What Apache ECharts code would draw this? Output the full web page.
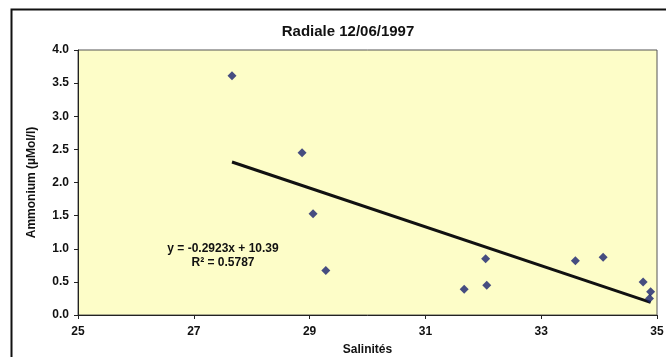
<!DOCTYPE html>
<html>
<head>
<meta charset="utf-8">
<script src="https://cdn.jsdelivr.net/npm/echarts@6/dist/echarts.min.js"></script>
<style>
  html, body { margin: 0; padding: 0; background: #fff; }
  #chart { width: 666px; height: 357px; }
</style>
</head>
<body>
<div id="chart"></div>
<script>
// measured points (salinity, ammonium)
const salinity = [27.66, 28.87, 29.06, 29.28, 31.67, 32.04, 32.06, 33.59, 34.07, 34.76, 34.89, 34.87];
const ammonium = [3.61, 2.45, 1.53, 0.67, 0.39, 0.85, 0.45, 0.82, 0.87, 0.50, 0.35, 0.25];
// linear trend ends
const trendX = [27.66, 34.89];
const trendY = [2.31, 0.19];
const eqLines = ['y = -0.2923x + 10.39', 'R\u00b2 = 0.5787'];

let chart = echarts.init(document.getElementById('chart'));
const font = '"Liberation Sans", Arial, sans-serif';

let option = {
  animation: false,
  backgroundColor: '#fff',
  title: {
    text: 'Radiale 12/06/1997',
    left: 343,
    top: 19,
    textAlign: 'center',
    textStyle: { fontFamily: font, fontSize: 15, fontWeight: 'bold', color: '#111' }
  },
  grid: { left: 78, right: 9, top: 50, bottom: 42, outerBoundsMode: 'none', containLabel: false,
    show: true, backgroundColor: '#fdfdc8', borderColor: '#555', borderWidth: 1 },
  xAxis: {
    type: 'value', min: 25, max: 35, interval: 2,
    name: 'Salinités', nameLocation: 'middle', nameGap: 29,
    nameTextStyle: { fontFamily: font, fontSize: 12, fontWeight: 'bold', color: '#111' },
    axisLine: { show: true, onZero: false, lineStyle: { color: '#222', width: 1 } },
    axisTick: { show: true, length: 4, lineStyle: { color: '#222' } },
    axisLabel: { fontFamily: font, fontSize: 12, fontWeight: 'bold', color: '#111', margin: 11 },
    splitLine: { show: false }
  },
  yAxis: {
    type: 'value', min: 0, max: 4, interval: 0.5,
    name: 'Ammonium (µMol/l)', nameLocation: 'middle', nameGap: 40, nameRotate: 90,
    nameTextStyle: { fontFamily: font, fontSize: 12, fontWeight: 'bold', color: '#111' },
    axisLine: { show: true, lineStyle: { color: '#222', width: 1 } },
    axisTick: { show: true, length: 4, lineStyle: { color: '#222' } },
    axisLabel: { fontFamily: font, fontSize: 12, fontWeight: 'bold', color: '#111', margin: 9,
      formatter: v => v.toFixed(1) },
    splitLine: { show: false }
  },
  series: [
    {
      type: 'line',
      data: trendX.map((x, i) => [x, trendY[i]]),
      symbol: 'none',
      lineStyle: { color: '#111', width: 3 },
      z: 2
    },
    {
      type: 'scatter',
      data: salinity.map((x, i) => [x, ammonium[i]]),
      symbol: 'diamond',
      symbolSize: 9,
      itemStyle: { color: '#18206e' },
      z: 3
    }
  ],
  graphic: [
    {
      type: 'rect', left: 9, top: 7, silent: true,
      shape: { width: 700, height: 400 },
      style: { fill: 'none', stroke: '#111', lineWidth: 2 }
    },
    {
      type: 'text', x: 223, y: 249,
      style: { text: eqLines[0], fontFamily: font, fontSize: 12, fontWeight: 'bold', fill: '#111', align: 'center', verticalAlign: 'middle' }
    },
    {
      type: 'text', x: 223, y: 263,
      style: { text: eqLines[1], fontFamily: font, fontSize: 12, fontWeight: 'bold', fill: '#111', align: 'center', verticalAlign: 'middle' }
    }
  ]
};
chart.setOption(option);
</script>
</body>
</html>
